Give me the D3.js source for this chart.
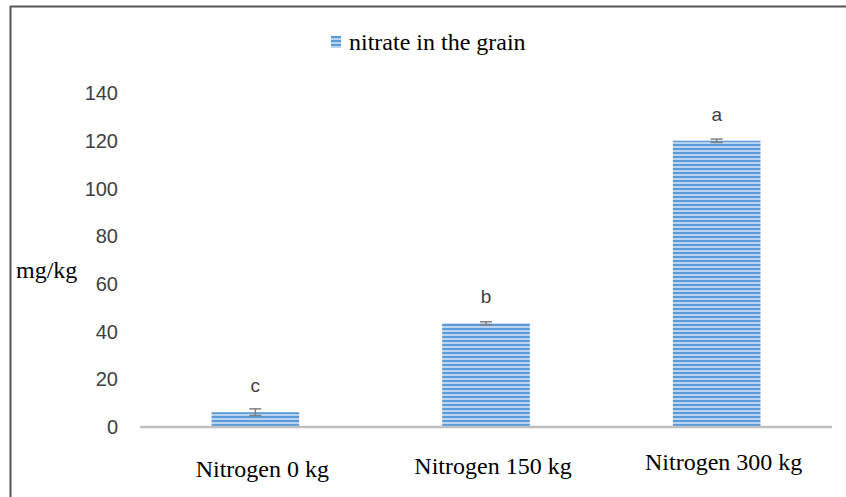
<!DOCTYPE html>
<html>
<head>
<meta charset="utf-8">
<script src="https://cdn.jsdelivr.net/npm/d3@7"></script>
<style>
  body { margin: 0; background: #fff; }
  svg { display: block; }
</style>
</head>
<body>
<div id="chart"></div>
<script>
// data
const categories = ["Nitrogen 0 kg", "Nitrogen 150 kg", "Nitrogen 300 kg"];
const values = [6.2, 43.5, 120];
const errors = [1.4, 0.6, 0.7];
const letters = ["c", "b", "a"];
const yTicks = [0, 20, 40, 60, 80, 100, 120, 140];
const seriesName = "nitrate in the grain";

const width = 846, height = 497;
const margin = { top: 93, right: 14, bottom: 70, left: 140 };

const svg = d3.select("#chart").append("svg")
  .attr("width", width)
  .attr("height", height);

// striped fill like the excel pattern
const defs = svg.append("defs");
const pat = defs.append("pattern")
  .attr("id", "stripes")
  .attr("patternUnits", "userSpaceOnUse")
  .attr("width", 8).attr("height", 4);
pat.append("rect").attr("width", 8).attr("height", 4).attr("fill", "#b9d3f0");
pat.append("rect").attr("width", 8).attr("height", 2).attr("fill", "#5d9ad8");

// frame (only top and left edges visible in the crop)
svg.append("line")
  .attr("x1", 10).attr("x2", width).attr("y1", 6.5).attr("y2", 6.5)
  .attr("stroke", "#555").attr("stroke-width", 2);
svg.append("line")
  .attr("x1", 10.5).attr("x2", 10.5).attr("y1", 6).attr("y2", height)
  .attr("stroke", "#555").attr("stroke-width", 2);

const x = d3.scaleBand()
  .domain(categories)
  .range([margin.left, width - margin.right])
  .padding(0);

const y = d3.scaleLinear()
  .domain([0, 140])
  .range([height - margin.bottom, margin.top]);

const barW = x.bandwidth() * 0.38;

// y tick labels (no axis line in the original)
svg.append("g")
  .selectAll("text")
  .data(yTicks)
  .join("text")
  .attr("x", 118)
  .attr("y", d => y(d))
  .attr("dy", "0.36em")
  .attr("text-anchor", "end")
  .attr("font-family", "'Liberation Sans', Arial, sans-serif")
  .attr("font-size", 20)
  .attr("fill", "#404040")
  .text(d => d);

// bars
svg.append("g")
  .selectAll("rect")
  .data(values)
  .join("rect")
  .attr("x", (d, i) => x(categories[i]) + (x.bandwidth() - barW) / 2)
  .attr("y", d => y(d))
  .attr("width", barW)
  .attr("height", d => y(0) - y(d))
  .attr("fill", "url(#stripes)");

// baseline
svg.append("line")
  .attr("x1", margin.left).attr("x2", width - margin.right)
  .attr("y1", y(0)).attr("y2", y(0))
  .attr("stroke", "#bfbfbf").attr("stroke-width", 2.5);

// error bars
const eb = svg.append("g").attr("stroke", "#7f7f7f").attr("stroke-width", 1.5);
values.forEach((v, i) => {
  const cx = x(categories[i]) + x.bandwidth() / 2;
  eb.append("line").attr("x1", cx).attr("x2", cx)
    .attr("y1", y(v + errors[i])).attr("y2", y(v - errors[i]));
  [v + errors[i], v - errors[i]].forEach(e => {
    eb.append("line").attr("x1", cx - 6).attr("x2", cx + 6)
      .attr("y1", y(e)).attr("y2", y(e));
  });
});

// significance letters
svg.append("g")
  .selectAll("text")
  .data(letters)
  .join("text")
  .attr("x", (d, i) => x(categories[i]) + x.bandwidth() / 2)
  .attr("y", (d, i) => y(values[i]) - 20)
  .attr("text-anchor", "middle")
  .attr("font-family", "'Liberation Sans', Arial, sans-serif")
  .attr("font-size", 19)
  .attr("fill", "#404040")
  .text(d => d);

// category labels (the scanned original sits slightly tilted)
svg.append("g")
  .selectAll("text")
  .data(categories)
  .join("text")
  .attr("x", d => x(d) + x.bandwidth() / 2 + 7)
  .attr("y", (d, i) => 477 - i * 3.5)
  .attr("text-anchor", "middle")
  .attr("font-family", "'Liberation Serif', 'Times New Roman', serif")
  .attr("font-size", 24)
  .attr("fill", "#000")
  .text(d => d);

// y axis title
svg.append("text")
  .attr("x", 16).attr("y", 278)
  .attr("font-family", "'Liberation Serif', 'Times New Roman', serif")
  .attr("font-size", 24)
  .attr("fill", "#000")
  .text("mg/kg");

// legend
const lg = svg.append("g").attr("transform", "translate(331,36)");
lg.append("rect").attr("width", 10).attr("height", 12).attr("fill", "url(#stripes)");
lg.append("text")
  .attr("x", 18).attr("y", 14)
  .attr("font-family", "'Liberation Serif', 'Times New Roman', serif")
  .attr("font-size", 24)
  .attr("fill", "#000")
  .text(seriesName);
</script>
</body>
</html>
